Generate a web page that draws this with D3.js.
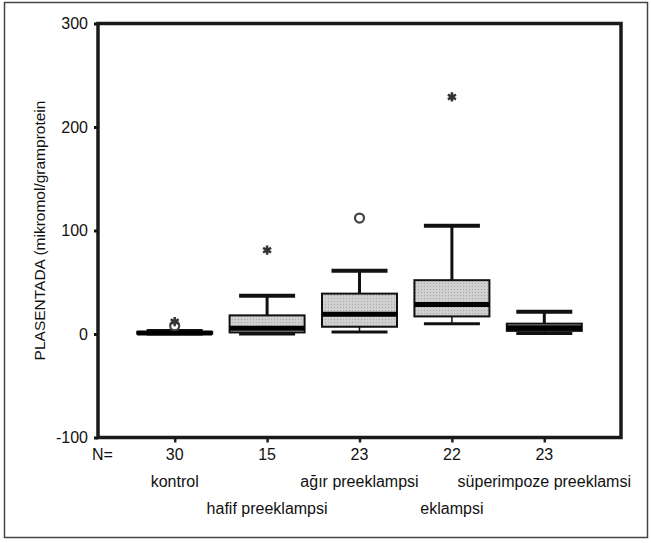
<!DOCTYPE html>
<html>
<head>
<meta charset="utf-8">
<script src="https://cdn.jsdelivr.net/npm/d3@7"></script>
<style>
  body { margin: 0; background: #fff; }
  text { font-family: "Liberation Sans", Arial, sans-serif; fill: #111; }
</style>
</head>
<body>
<svg id="chart" width="651" height="543"></svg>
<script>
// groups and summary values
const groups = ['kontrol', 'hafif preeklampsi', 'ağır preeklampsi', 'eklampsi', 'süperimpoze preeklamsi'];
const nCounts = [30, 15, 23, 22, 23];
const mins    = [0,   0,   2,  10,  0.5];
const q1s     = [0.3, 1.5, 7,  17,  3];
const medians = [1,   5.5, 19, 28.5, 6];
const q3s     = [2,   18,  39, 52,  10];
const maxs    = [3,   37,  61, 104.5, 21.5];
// outliers (circle) and extremes (star)
const circleGroups = [0, 2];
const circleValues = [8, 112];
const starGroups = [0, 1, 3];
const starValues = [12, 81, 229];
const yTicks = [-100, 0, 100, 200, 300];

const svg = d3.select('#chart');
const plotL = 98, plotR = 621, plotT = 23.5, plotB = 437.5;

const x = d3.scalePoint().domain(d3.range(groups.length)).range([plotL, plotR]).padding(0.83);
const y = d3.scaleLinear().domain([-100, 300]).range([plotB, plotT]);

const boxW = 75, capW = 56;

// outer frame
svg.append('rect')
  .attr('x', 4.5).attr('y', 2.5).attr('width', 643).attr('height', 535)
  .attr('fill', 'none').attr('stroke', '#444').attr('stroke-width', 1.5);

// dotted gray fill
const defs = svg.append('defs');
const pat = defs.append('pattern').attr('id', 'dots')
  .attr('width', 3).attr('height', 3).attr('patternUnits', 'userSpaceOnUse');
pat.append('rect').attr('width', 3).attr('height', 3).attr('fill', '#d0d0d0');
pat.append('rect').attr('x', 1).attr('y', 1).attr('width', 1).attr('height', 1).attr('fill', '#a8a8a8');

// y axis
const yAxis = svg.append('g')
  .attr('transform', `translate(${plotL},0)`)
  .call(d3.axisLeft(y).tickValues(yTicks).tickSize(4).tickPadding(6).tickFormat(d => String(d)));
yAxis.select('.domain').remove();
yAxis.selectAll('.tick line').attr('stroke', '#111').attr('stroke-width', 3);
yAxis.selectAll('.tick text').style('font-size', '16px').attr('fill', '#111');

// x ticks
const xAxis = svg.append('g')
  .attr('transform', `translate(0,${plotB})`)
  .call(d3.axisBottom(x).tickSize(5).tickFormat(''));
xAxis.select('.domain').remove();
xAxis.selectAll('.tick line').attr('stroke', '#222').attr('stroke-width', 2.5);

// plot frame
svg.append('rect')
  .attr('x', plotL).attr('y', plotT).attr('width', plotR - plotL).attr('height', plotB - plotT)
  .attr('fill', 'none').attr('stroke', '#1a1a1a').attr('stroke-width', 3.5);

// boxes
const g = svg.append('g');
groups.forEach((name, i) => {
  const cx = x(i);
  // whiskers
  g.append('line').attr('x1', cx).attr('x2', cx).attr('y1', y(q3s[i])).attr('y2', y(maxs[i]))
    .attr('stroke', '#111').attr('stroke-width', 3);
  g.append('line').attr('x1', cx).attr('x2', cx).attr('y1', y(q1s[i])).attr('y2', y(mins[i]))
    .attr('stroke', '#111').attr('stroke-width', 1.5);
  g.append('line').attr('x1', cx - capW / 2).attr('x2', cx + capW / 2)
    .attr('y1', y(maxs[i])).attr('y2', y(maxs[i]))
    .attr('stroke', '#111').attr('stroke-width', 4);
  g.append('line').attr('x1', cx - capW / 2).attr('x2', cx + capW / 2)
    .attr('y1', y(mins[i])).attr('y2', y(mins[i]))
    .attr('stroke', '#111').attr('stroke-width', 3);
  // box
  g.append('rect')
    .attr('x', cx - boxW / 2).attr('y', y(q3s[i]))
    .attr('width', boxW).attr('height', Math.max(0, y(q1s[i]) - y(q3s[i])))
    .attr('fill', 'url(#dots)').attr('stroke', '#111').attr('stroke-width', 2);
  // median
  g.append('line').attr('x1', cx - boxW / 2).attr('x2', cx + boxW / 2)
    .attr('y1', y(medians[i])).attr('y2', y(medians[i]))
    .attr('stroke', '#000').attr('stroke-width', 5);
});

// outliers
circleGroups.forEach((gi, k) => {
  svg.append('circle')
    .attr('cx', x(gi)).attr('cy', y(circleValues[k])).attr('r', 4.5)
    .attr('fill', '#fff').attr('stroke', '#444').attr('stroke-width', 2.2);
});
const starSym = d3.symbol().type(d3.symbolAsterisk || d3.symbolCross).size(60);
starGroups.forEach((gi, k) => {
  svg.append('path')
    .attr('transform', `translate(${x(gi)},${y(starValues[k])})`)
    .attr('d', starSym())
    .attr('fill', 'none').attr('stroke', '#333').attr('stroke-width', 2.5);
});

// y title
svg.append('text')
  .attr('transform', `translate(45,${(plotT + plotB) / 2}) rotate(-90)`)
  .attr('text-anchor', 'middle')
  .style('font-size', '15.5px')
  .text('PLASENTADA (mikromol/gramprotein');

// N row
svg.append('text').attr('x', 92).attr('y', 460).style('font-size', '16px').text('N=');
svg.selectAll('.ncount').data(nCounts).enter().append('text')
  .attr('class', 'ncount')
  .attr('x', (d, i) => x(i)).attr('y', 460)
  .attr('text-anchor', 'middle').style('font-size', '16px')
  .text(d => d);

// group labels, staggered on two rows
svg.selectAll('.glabel').data(groups).enter().append('text')
  .attr('class', 'glabel')
  .attr('x', (d, i) => x(i)).attr('y', (d, i) => i % 2 === 0 ? 487 : 514)
  .attr('text-anchor', 'middle').style('font-size', '16px')
  .text(d => d);
</script>
</body>
</html>
